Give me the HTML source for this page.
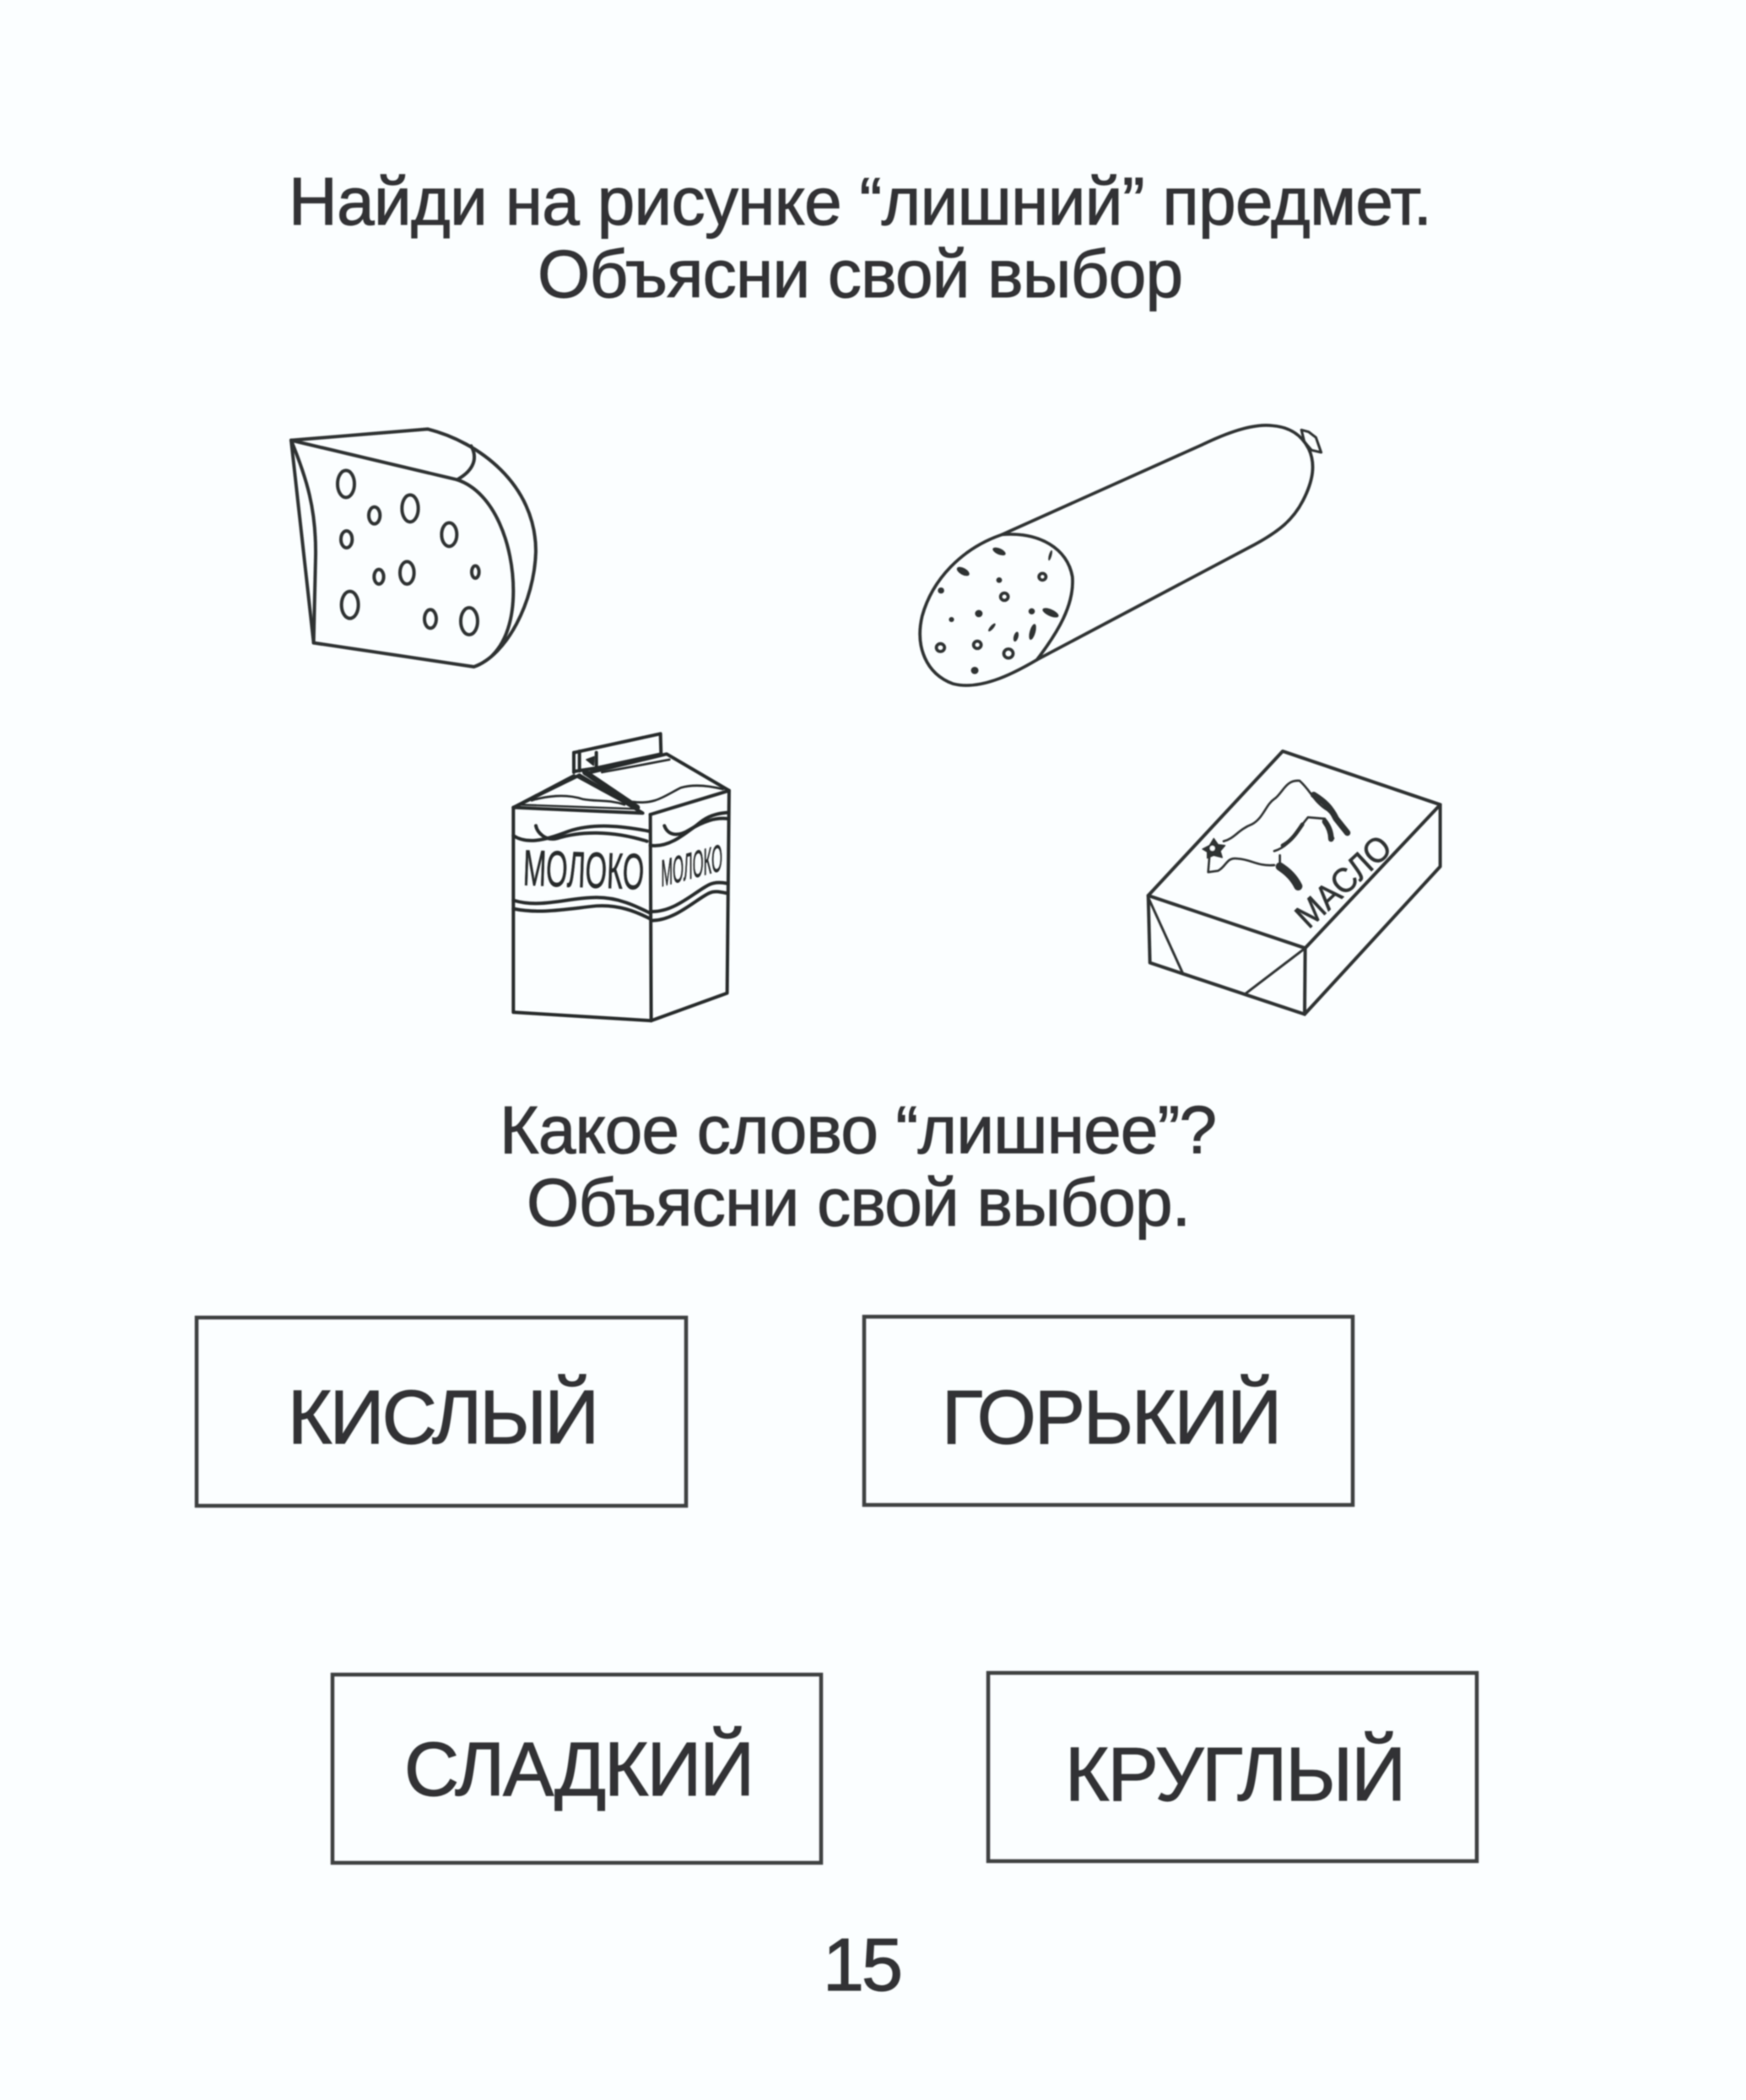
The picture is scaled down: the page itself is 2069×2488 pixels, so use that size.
<!DOCTYPE html>
<html lang="ru">
<head>
<meta charset="utf-8">
<title>15</title>
<style>
html,body{margin:0;padding:0;background:#fbfeff;width:2069px;height:2488px;overflow:hidden}
svg{display:block}
text{font-family:"Liberation Sans",sans-serif;fill:#303334}
</style>
</head>
<body>
<svg width="2069" height="2488" viewBox="0 0 2069 2488" xmlns="http://www.w3.org/2000/svg">
<defs><filter id="b" x="-5%" y="-5%" width="110%" height="110%"><feGaussianBlur stdDeviation="0.8"/></filter></defs>
<rect width="2069" height="2488" fill="#fbfeff"/>
<g filter="url(#b)">
<!-- headings -->
<g font-size="80" stroke="#303334" stroke-width="1">
<text x="342" y="266" textLength="1355" lengthAdjust="spacing">Найди на рисунке “лишний” предмет.</text>
<text x="637" y="352" textLength="765" lengthAdjust="spacing">Объясни свой выбор</text>
<text x="592" y="1366" textLength="850" lengthAdjust="spacing">Какое слово “лишнее”?</text>
<text x="624" y="1452" textLength="787" lengthAdjust="spacing">Объясни свой выбор.</text>
</g>

<!-- word boxes -->
<g fill="none" stroke="#3c3f40" stroke-width="4.5">
<rect x="233" y="1561" width="580" height="223"/>
<rect x="1024" y="1560" width="579" height="223"/>
<rect x="394" y="1984" width="579" height="223"/>
<rect x="1171" y="1982" width="579" height="223"/>
</g>
<g font-size="90" stroke="#303334" stroke-width="1.2">
<text x="341" y="1710" textLength="369" lengthAdjust="spacing">КИСЛЫЙ</text>
<text x="1116" y="1710" textLength="403" lengthAdjust="spacing">ГОРЬКИЙ</text>
<text x="479" y="2127" textLength="415" lengthAdjust="spacing">СЛАДКИЙ</text>
<text x="1262" y="2133" textLength="404" lengthAdjust="spacing">КРУГЛЫЙ</text>
</g>
<text x="975" y="2358" font-size="88" textLength="95" lengthAdjust="spacing" stroke="#303334" stroke-width="1.2">15</text>

<!-- cheese -->
<g transform="translate(300,460) scale(0.3333)" fill="none" stroke="#2f3233" stroke-width="12" stroke-linejoin="round" stroke-linecap="round">
<path d="M135 185 L620 145 C800 190 1005 340 1005 580 C1000 760 900 950 785 990 L215 905 Z"/>
<path d="M135 185 L725 325 C860 370 925 560 925 720 C925 820 900 900 850 950"/>
<path d="M135 185 C190 320 225 430 222 600 L215 905"/>
<path d="M725 325 C770 300 805 260 775 205"/>
<ellipse cx="330" cy="340" rx="30" ry="48"/>
<ellipse cx="431" cy="452" rx="20" ry="30"/>
<ellipse cx="558" cy="427" rx="29" ry="48"/>
<ellipse cx="697" cy="520" rx="27" ry="42"/>
<ellipse cx="332" cy="537" rx="20" ry="30"/>
<ellipse cx="447" cy="670" rx="17" ry="26"/>
<ellipse cx="547" cy="656" rx="25" ry="40"/>
<ellipse cx="790" cy="653" rx="13" ry="22"/>
<ellipse cx="344" cy="770" rx="30" ry="48"/>
<ellipse cx="630" cy="820" rx="21" ry="33"/>
<ellipse cx="768" cy="828" rx="30" ry="48"/>
</g>

<!-- sausage -->
<g transform="translate(1060,470) scale(0.3444,0.3333)" fill="none" stroke="#2f3233" stroke-width="11" stroke-linejoin="round" stroke-linecap="round">
<path d="M370 490 L1060 170 C1160 120 1240 95 1300 103 C1360 108 1400 135 1425 185 C1450 240 1440 300 1405 370 C1370 440 1320 480 1240 525 L490 935"/>
<path d="M370 490 C230 540 130 650 95 780 C70 890 110 985 200 1020 C290 1045 400 990 490 935 C560 840 620 740 612 640 C595 540 500 480 370 490 Z"/>
<path d="M1400 118 L1425 125 L1450 145 L1468 198 L1435 190 L1410 160 Z" stroke-width="9"/>
<g stroke-width="11">
<circle cx="509" cy="640" r="12"/><circle cx="378" cy="711" r="13"/>
<circle cx="158" cy="892" r="14"/><circle cx="285" cy="882" r="13"/><circle cx="392" cy="913" r="16"/>
</g>
<g fill="#2f3233" stroke="none">
<ellipse cx="360" cy="550" rx="24" ry="11" transform="rotate(25 360 550)"/>
<ellipse cx="236" cy="621" rx="24" ry="12" transform="rotate(30 236 621)"/>
<ellipse cx="536" cy="564" rx="5" ry="19" transform="rotate(15 536 564)"/>
<circle cx="360" cy="652" r="10"/><circle cx="160" cy="689" r="11"/>
<circle cx="290" cy="771" r="13"/><circle cx="196" cy="792" r="9"/>
<circle cx="472" cy="763" r="11"/>
<ellipse cx="537" cy="768" rx="30" ry="12" transform="rotate(25 537 768)"/>
<ellipse cx="335" cy="820" rx="6" ry="18" transform="rotate(40 335 820)"/>
<ellipse cx="418" cy="853" rx="8" ry="18" transform="rotate(15 418 853)"/>
<ellipse cx="475" cy="836" rx="10" ry="29" transform="rotate(15 475 836)"/>
<circle cx="276" cy="973" r="13"/>
</g>
</g>

<!-- milk carton -->
<g transform="translate(580,850) scale(0.3333)" fill="none" stroke="#26292a" stroke-width="12" stroke-linejoin="round" stroke-linecap="round">
<path d="M85 320 L85 1048 L575 1078 L845 980 L852 260"/>
<path d="M572 345 L575 1078"/>
<path d="M85 320 L545 340 L320 205 Z" stroke-width="12"/>
<path d="M100 310 L300 205 L520 325 Z" stroke-width="7"/>
<path d="M572 345 L852 260 L630 130 L340 200"/>
<path d="M300 125 L300 195 M300 125 L608 58 L610 130 L380 180 M380 125 L380 180 M320 120 L320 190 M300 192 L380 180"/>
<path d="M400 195 L640 150 M380 180 L630 130" stroke-width="8"/>
<path d="M340 195 L525 320" stroke-width="20"/>
<path d="M345 150 L372 140 L370 170 Z" fill="#26292a" stroke-width="5"/>
<path d="M150 295 C200 280 270 270 330 290 C380 300 420 290 480 310" stroke-width="8"/>
<path d="M510 300 C590 310 620 280 680 250 C730 235 790 245 830 255" stroke-width="8"/>
<path d="M85 420 C130 450 190 440 280 405 C370 375 470 385 570 405"/>
<path d="M165 385 C170 410 200 440 240 430 C320 405 430 400 560 440"/>
<path d="M572 455 C640 465 700 410 760 365 C790 345 820 340 850 338"/>
<path d="M622 385 C635 420 670 425 710 400 C760 370 800 355 848 360"/>
<path d="M85 650 C180 680 280 640 380 640 C460 640 520 670 570 695"/>
<path d="M85 680 C180 700 280 680 380 670 C460 665 520 690 570 715"/>
<path d="M580 690 C660 690 730 620 780 595 C800 585 820 585 845 590"/>
<path d="M580 722 C660 720 730 650 780 625 C800 615 820 620 845 625"/>
<text x="0" y="0" transform="translate(118,596) rotate(2)" font-size="180" textLength="430" lengthAdjust="spacingAndGlyphs" stroke="#26292a" stroke-width="2" style="fill:#26292a">МОЛОКО</text>
<text x="0" y="0" transform="matrix(1,-0.27,0,1,610,602)" font-size="135" textLength="218" lengthAdjust="spacingAndGlyphs" stroke="#26292a" stroke-width="2" style="fill:#26292a">МОЛОКО</text>
</g>

<!-- butter -->
<g transform="translate(1340,870) scale(0.3333)" fill="none" stroke="#2f3233" stroke-width="12" stroke-linejoin="round" stroke-linecap="round">
<path d="M62 573 L540 60 L1100 250 L620 760 Z"/>
<path d="M62 573 L68 812 L618 995 L620 760"/>
<path d="M618 995 L1100 470 L1100 250"/>
<path d="M62 580 L185 850 M410 920 L620 760" stroke-width="9"/>
<path d="M330 380 C370 370 380 340 430 320 C470 300 480 250 510 230 C540 210 550 160 600 165 C640 200 650 240 700 270 C730 300 740 300 770 345" stroke-width="8"/>
<path d="M280 430 L275 490 L310 485 C340 470 340 435 380 442 C430 445 450 470 510 465" stroke-width="8"/>
<path d="M510 415 C560 400 580 360 610 320 L630 295 L690 300 L720 370" stroke-width="8"/>
<path d="M530 430 L530 470" stroke-width="8"/>
<path d="M650 215 C690 240 710 260 730 300 L770 350" stroke-width="22"/>
<path d="M530 470 C560 490 580 510 595 540" stroke-width="30"/>
<path d="M540 395 C570 380 590 350 610 320" stroke-width="14"/>
<path d="M690 310 C705 330 712 350 712 372" stroke-width="20"/>
<path d="M255 408 L280 395 L295 370 L310 392 L335 395 L318 415 L325 438 L295 430 L272 440 L272 418 Z" fill="#2f3233" stroke-width="4"/>
<circle cx="290" cy="405" r="9" fill="#fbfeff" stroke="none"/>
<text x="0" y="0" transform="translate(632,695) rotate(-43)" font-size="122" textLength="415" lengthAdjust="spacingAndGlyphs" stroke="#2f3233" stroke-width="2" style="fill:#2f3233">МАСЛО</text>
</g>
</g>
</svg>
</body>
</html>
